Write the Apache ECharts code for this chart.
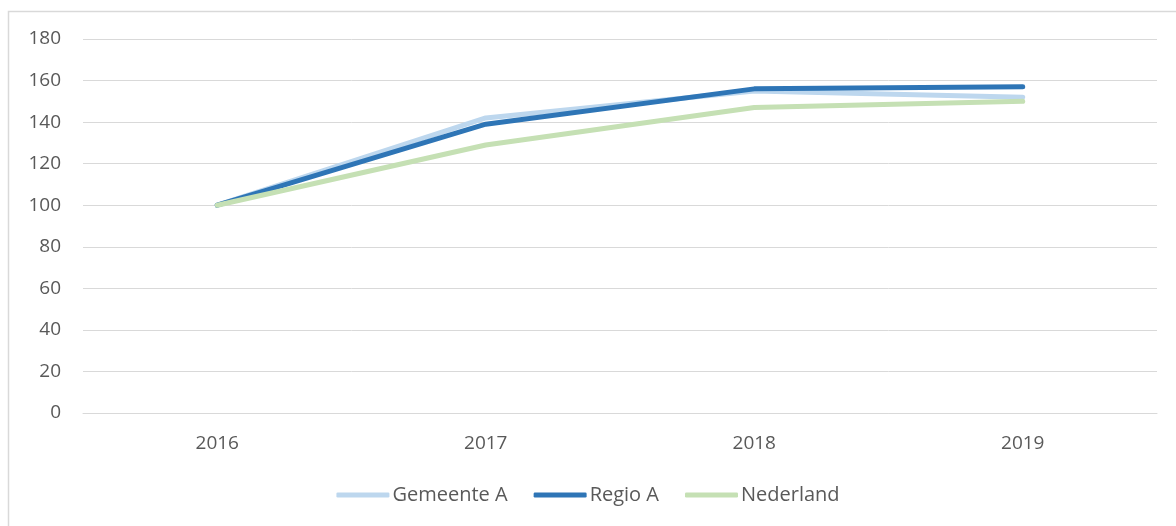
<!doctype html>
<html>
<head>
<meta charset="utf-8">
<script src="https://cdn.jsdelivr.net/npm/echarts@6/dist/echarts.min.js"></script>
<style>
  html, body { margin:0; padding:0; background:#fff; }
  #chart { width:1176px; height:526px; }
</style>
</head>
<body>
<div id="chart"></div>
<script>
const years = ['2016', '2017', '2018', '2019'];
const gemeenteA = [100, 142, 155, 152];
const regioA = [100, 139, 156, 157];
const nederland = [100, 129, 147, 150];

const line = (name, data, color) => ({
  name, type: 'line', data,
  symbol: 'none',
  lineStyle: { color, width: 5, cap: 'round', join: 'round' },
  itemStyle: { color },
  emphasis: { disabled: true }
});

echarts.init(document.getElementById('chart')).setOption({
  animation: false,
  backgroundColor: '#fff',
  textStyle: { fontFamily: 'Open Sans, sans-serif' },
  graphic: [{
    type: 'rect', left: 6, top: 9,
    shape: { width: 1180, height: 530 },
    style: { fill: 'none', stroke: '#d9d9d9', lineWidth: 1.5 }
  }],
  grid: { left: 83, right: 19, top: 39, bottom: 113 },
  legend: {
    bottom: 16, left: 'center',
    itemWidth: 53, itemHeight: 5, itemGap: 26,
    icon: 'roundRect',
    textStyle: { color: '#595959', fontSize: 20, padding: [0, 0, 0, -2] },
    data: ['Gemeente A', 'Regio A', 'Nederland']
  },
  xAxis: {
    type: 'category', data: years,
    axisLine: { lineStyle: { color: '#d9d9d9' } },
    axisTick: { show: false },
    axisLabel: { color: '#595959', fontSize: 19, margin: 21 }
  },
  yAxis: {
    type: 'value', min: 0, max: 180, interval: 20,
    axisLine: { show: false },
    axisTick: { show: false },
    splitLine: { lineStyle: { color: '#d9d9d9', width: 1 } },
    axisLabel: { color: '#595959', fontSize: 19, margin: 22, align: 'right' }
  },
  series: [
    line('Gemeente A', gemeenteA, '#bdd7ee'),
    line('Regio A', regioA, '#2e75b6'),
    line('Nederland', nederland, '#c5e0b4')
  ]
});
</script>
</body>
</html>
